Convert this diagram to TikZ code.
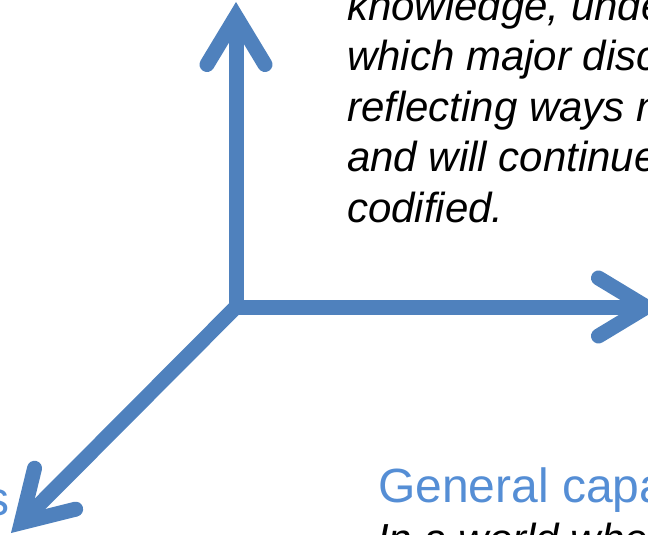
\documentclass[tikz,border=0pt]{standalone}
\usepackage{fontspec}
\setmainfont{Liberation Sans}
\usetikzlibrary{arrows.meta}
\definecolor{axisblue}{RGB}{79,129,189}
\definecolor{labelblue}{RGB}{85,142,213}

\begin{document}
\begin{tikzpicture}[x=1pt, y=-1pt,
    axis/.style={draw=axisblue, line width=15pt, line cap=rect,
      -{Straight Barb[length=48pt, width=58pt, line cap=round, line join=miter]}},
    heading/.style={font=\fontsize{48}{58}\selectfont, text=labelblue, inner sep=0pt},
    body/.style={font=\fontsize{42}{50.5}\selectfont\itshape, align=left, inner sep=0pt},
]
\useasboundingbox (0,0) rectangle (648,535);
\clip (0,0) rectangle (648,535);

% three dimensions
\coordinate (origin) at (236,307);
\coordinate (areas) at (236,2);
\coordinate (capabilities) at (661,307);
\coordinate (priorities) at (11,533);

\draw[axis] (origin) -- (areas);
\draw[axis] (origin) -- (capabilities);
\draw[axis] (origin) -- (priorities);

% learning areas
\node[body, anchor=base west] (areatext) at (347,222)
    {knowledge, understanding\\which major disciplines\\reflecting ways n\\and will continue to\\codified.};

% general capabilities
\node[heading, anchor=base west] (capheading) at (378,502) {General capabilities};
\node[body, anchor=base west] (captext) at (377,553) {In a world where};

% cross-curriculum priorities
\node[heading, anchor=base east] (prioheading) at (10,515) {Cross-curriculum priorities};

\end{tikzpicture}
\end{document}
